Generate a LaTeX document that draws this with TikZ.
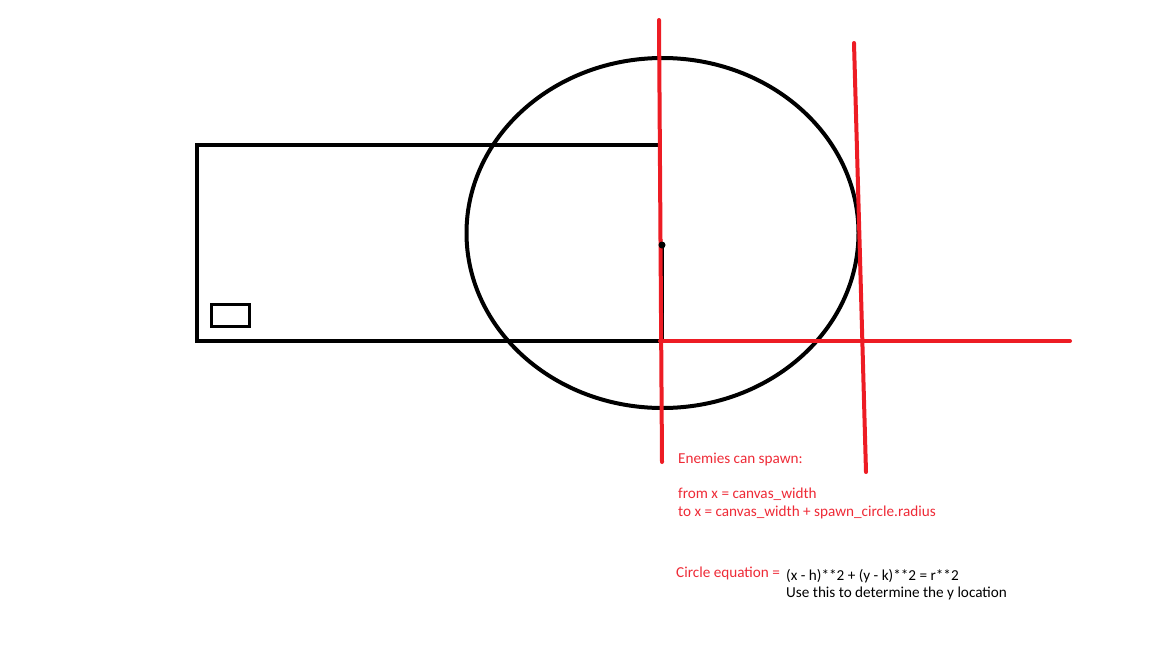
\documentclass[tikz,border=0pt]{standalone}
\usepackage{fontspec}
\setmainfont{Carlito}
\definecolor{pred}{HTML}{ED1C24}
\definecolor{tred}{HTML}{EE2A36}
\begin{document}
\begin{tikzpicture}[x=1pt,y=-1pt,
  blk/.style={line width=4pt,black},
  rline/.style={line width=4pt,pred,line cap=round},
  lbl/.style={inner sep=0pt,anchor=base west,font=\fontsize{15.2}{18}\selectfont},
  lblr/.style={lbl,text=tred}]
\useasboundingbox (0,0) rectangle (1152,648);
% canvas rectangle
\draw[blk] (660,145) -- (197,145) -- (197,341) -- (660,341);
\draw[line width=3pt] (211,304.5) rectangle (249.5,326.5);
% spawn circle
\draw[line width=4pt] (662.5,233) ellipse [x radius=196,y radius=175];
\draw[line width=3.5pt] (662,245) -- (662,341);
% red lines
\draw[rline] (659,20) -- (660.5,240);
\draw[rline] (660.5,240) -- (662,462);
\draw[rline] (854,43) -- (866,472);
\draw[rline] (660,341) -- (1070,341);
\fill (662,245) circle (3.5pt);
% texts
\node[lblr] (t1) at (678,463) {Enemies can spawn:};
\node[lblr] (t2) at (678,498) {from x = canvas\_width};
\node[lblr] (t3) at (678,516) {to x = canvas\_width + spawn\_circle.radius};
\node[lblr] (t4) at (676,577) {Circle equation =};
\node[lbl] (t5) at (786,580) {(x - h)**2 + (y - k)**2 = r**2};
\node[lbl] (t6) at (786,597) {Use this to determine the y location};
\end{tikzpicture}
\end{document}
